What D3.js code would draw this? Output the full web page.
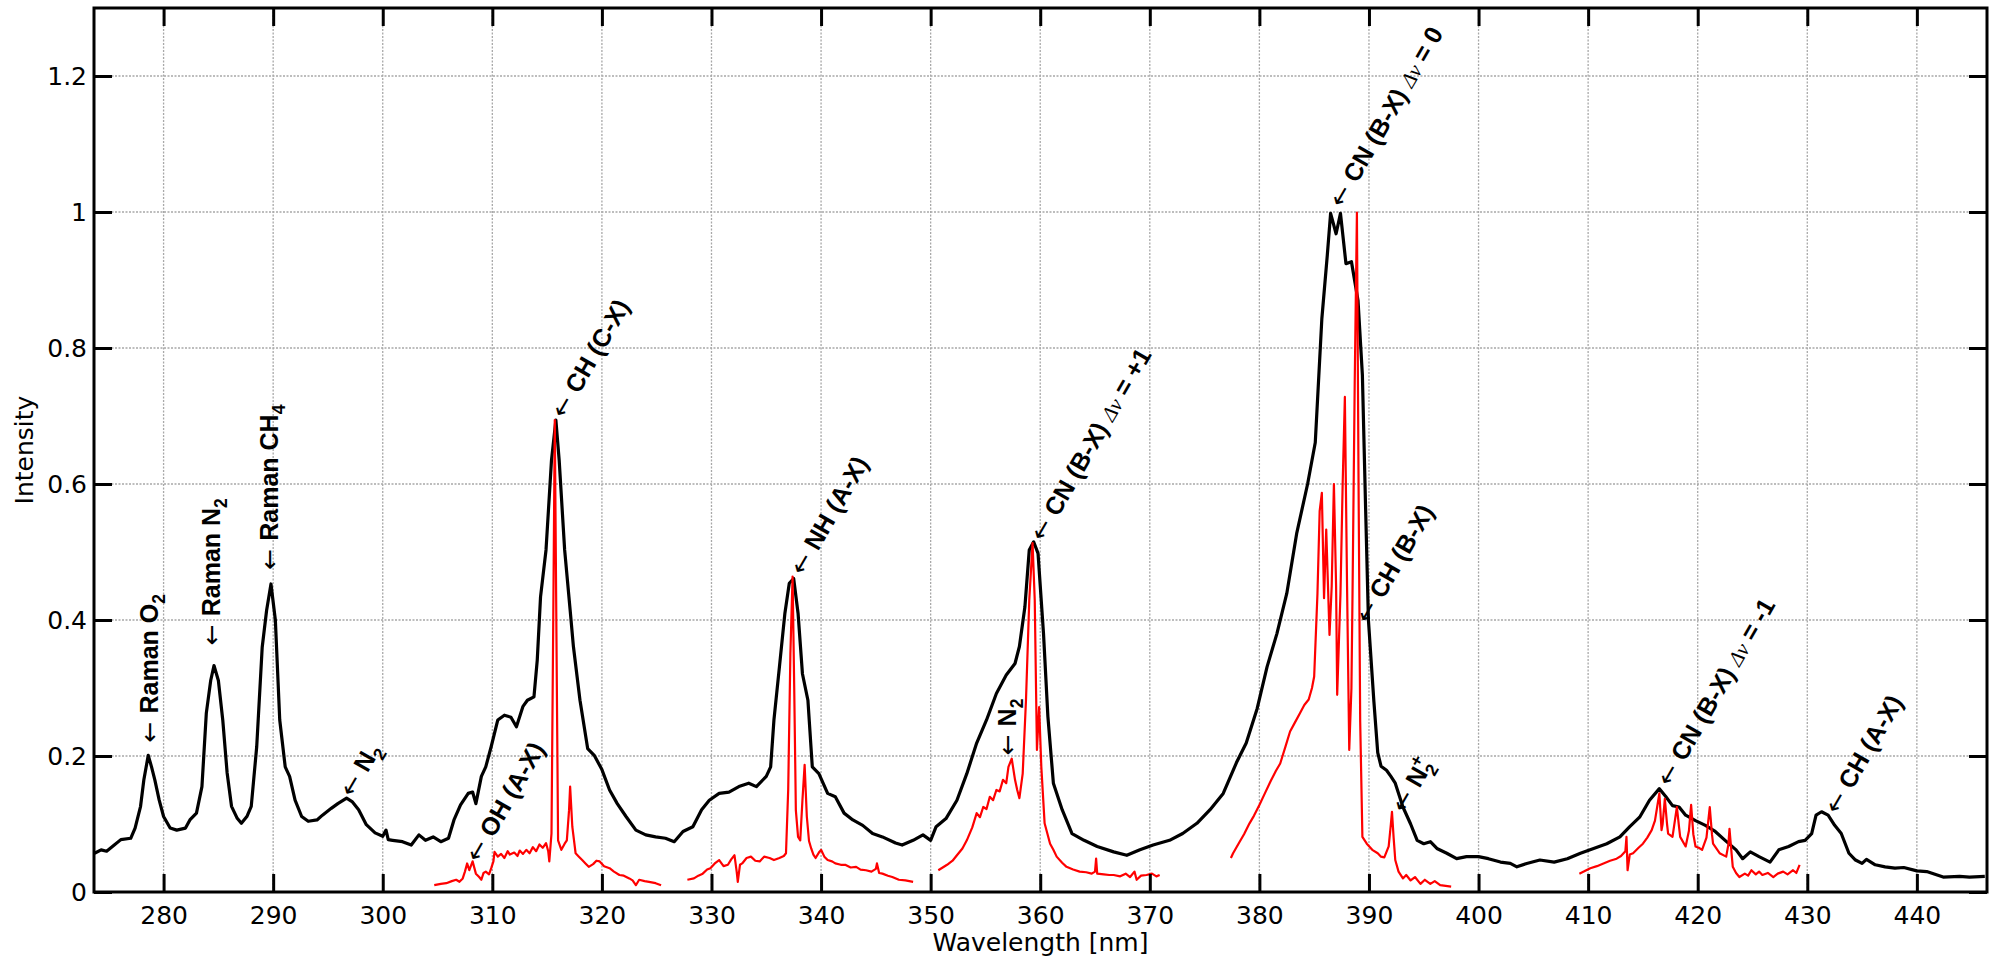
<!DOCTYPE html>
<html><head><meta charset="utf-8">
<script src="https://cdn.jsdelivr.net/npm/d3@7"></script>
<style>body{margin:0;background:#fff}svg{display:block}</style>
</head><body>
<svg id="chart" width="1997" height="963"></svg>
<script>
// ---------- DATA ----------
const blackWl = [273.7,274.3,274.8,275.5,276.1,277.0,277.4,277.9,278.2,278.6,278.9,279.2,279.6,280.0,280.6,281.2,282.0,282.4,283.0,283.5,283.9,284.3,284.6,285.0,285.4,285.8,286.2,286.7,287.1,287.6,288.0,288.5,289.0,289.4,289.8,290.2,290.6,291.1,291.5,292.0,292.6,293.2,294.0,294.5,295.3,295.9,296.7,297.2,297.8,298.5,299.3,300.0,300.3,300.5,300.9,301.8,302.6,303.3,303.9,304.6,305.3,306.0,306.5,307.1,307.8,308.2,308.5,309.0,309.4,309.9,310.5,311.1,311.7,312.2,312.8,313.2,313.8,314.1,314.4,314.9,315.4,315.8,316.1,316.6,317.1,317.4,318.0,318.7,319.3,320.0,320.7,321.4,322.2,323.1,324.0,324.9,325.8,326.6,327.4,328.3,329.1,329.8,330.7,331.6,332.5,333.4,334.1,335.0,335.4,335.7,336.2,336.7,337.1,337.5,337.9,338.3,338.8,339.2,339.8,340.6,341.3,342.1,342.9,343.8,344.7,345.6,346.8,347.4,348.4,349.3,350.0,350.5,351.4,352.4,353.3,354.2,355.1,356.0,356.9,357.7,358.1,358.6,359.0,359.4,359.8,360.3,360.7,361.2,362.0,362.9,364.0,365.2,366.7,367.9,369.1,370.3,371.8,373.0,374.3,375.5,376.7,377.9,378.8,379.8,380.7,381.6,382.5,383.4,384.4,385.1,385.7,386.2,386.5,387.0,387.4,387.9,388.4,389.0,389.4,389.7,389.95,390.45,390.8,391.1,391.6,392.0,392.4,393.1,393.8,394.4,395.0,395.6,396.2,397.1,398.0,398.9,400.0,400.9,402.0,402.9,403.5,404.4,405.6,406.9,408.1,409.3,410.5,411.7,412.9,413.8,414.7,415.6,416.5,417.1,417.7,418.3,418.9,419.8,420.7,421.6,422.5,423.5,424.1,424.8,425.6,426.6,427.4,428.3,429.2,429.8,430.4,430.8,431.3,431.9,432.5,433.1,433.8,434.4,435.0,435.4,436.2,437.1,438.0,438.8,440.0,440.9,442.4,443.9,444.8,446.2];
const blackInt = [0.057,0.062,0.060,0.069,0.077,0.079,0.094,0.126,0.165,0.201,0.184,0.165,0.135,0.111,0.094,0.091,0.094,0.106,0.116,0.155,0.263,0.311,0.333,0.311,0.253,0.175,0.126,0.109,0.101,0.111,0.126,0.214,0.360,0.414,0.453,0.400,0.253,0.184,0.170,0.135,0.111,0.104,0.106,0.113,0.123,0.130,0.138,0.133,0.121,0.099,0.087,0.082,0.091,0.077,0.076,0.074,0.069,0.084,0.076,0.081,0.074,0.079,0.106,0.128,0.145,0.147,0.130,0.170,0.184,0.214,0.253,0.260,0.257,0.243,0.273,0.282,0.287,0.341,0.434,0.503,0.635,0.694,0.635,0.503,0.415,0.361,0.282,0.211,0.201,0.180,0.150,0.130,0.111,0.091,0.084,0.081,0.079,0.074,0.089,0.096,0.121,0.135,0.145,0.147,0.155,0.160,0.155,0.170,0.184,0.253,0.331,0.410,0.454,0.461,0.410,0.321,0.282,0.184,0.174,0.145,0.140,0.116,0.106,0.098,0.086,0.081,0.072,0.069,0.076,0.084,0.076,0.096,0.108,0.135,0.174,0.219,0.253,0.292,0.319,0.336,0.361,0.419,0.503,0.515,0.498,0.380,0.258,0.160,0.121,0.086,0.076,0.067,0.059,0.054,0.062,0.069,0.076,0.086,0.101,0.121,0.145,0.190,0.219,0.270,0.331,0.380,0.439,0.527,0.600,0.661,0.843,0.937,0.998,0.968,0.998,0.924,0.927,0.870,0.760,0.560,0.400,0.280,0.205,0.185,0.179,0.170,0.160,0.125,0.100,0.076,0.071,0.074,0.064,0.057,0.049,0.052,0.052,0.049,0.044,0.042,0.037,0.042,0.047,0.044,0.049,0.057,0.064,0.071,0.081,0.096,0.110,0.135,0.152,0.140,0.127,0.125,0.113,0.105,0.098,0.089,0.076,0.062,0.049,0.059,0.052,0.044,0.062,0.067,0.074,0.076,0.086,0.113,0.118,0.113,0.098,0.086,0.057,0.047,0.042,0.048,0.040,0.037,0.035,0.036,0.031,0.030,0.022,0.023,0.022,0.023];

const red1Wl = [304.7,305.3,305.8,306.3,306.7,307.0,307.3,307.5,307.7,307.9,308.2,308.5,308.8,309.0,309.2,309.4,309.7,309.9,310.1,310.2,310.5,310.8,311.1,311.4,311.6,312.0,312.3,312.5,312.8,313.1,313.4,313.7,314.0,314.3,314.6,314.9,315.1,315.2,315.4,315.55,315.7,315.85,316.0,316.3,316.6,316.8,317.0,317.1,317.3,317.6,317.9,318.2,318.5,318.8,319.2,319.5,319.8,320.2,320.7,321.1,321.6,322.0,322.5,322.8,323.1,323.4,323.9,324.3,324.9,325.4];
const red1Int = [0.010,0.012,0.013,0.016,0.018,0.015,0.020,0.030,0.042,0.032,0.045,0.027,0.022,0.018,0.028,0.030,0.026,0.035,0.045,0.059,0.052,0.056,0.050,0.060,0.055,0.058,0.053,0.061,0.056,0.062,0.057,0.066,0.060,0.070,0.065,0.072,0.060,0.045,0.086,0.380,0.694,0.380,0.076,0.062,0.071,0.076,0.120,0.155,0.096,0.057,0.052,0.047,0.042,0.037,0.041,0.046,0.045,0.038,0.035,0.030,0.025,0.024,0.020,0.017,0.010,0.018,0.016,0.015,0.013,0.010];

const red2Wl = [327.8,328.4,328.8,329.2,329.6,329.9,330.3,330.7,331.1,331.5,331.8,332.1,332.3,332.4,332.6,332.8,333.2,333.6,334.0,334.4,334.8,335.3,335.7,336.2,336.6,336.8,337.0,337.2,337.4,337.55,337.7,337.9,338.1,338.3,338.5,338.7,338.9,339.1,339.3,339.5,339.8,340.0,340.3,340.6,341.0,341.3,341.8,342.2,342.7,343.2,343.6,344.1,344.6,345.0,345.1,345.3,345.6,346.1,346.5,347.1,347.7,348.4];
const red2Int = [0.018,0.020,0.024,0.027,0.033,0.035,0.042,0.047,0.038,0.040,0.048,0.054,0.030,0.015,0.040,0.042,0.050,0.052,0.046,0.045,0.052,0.050,0.047,0.050,0.053,0.057,0.150,0.350,0.464,0.300,0.120,0.081,0.076,0.135,0.187,0.111,0.075,0.064,0.055,0.050,0.058,0.062,0.052,0.047,0.045,0.042,0.040,0.040,0.036,0.037,0.033,0.032,0.030,0.034,0.042,0.028,0.027,0.024,0.022,0.018,0.017,0.015];

const red3Wl = [350.7,351.1,351.5,352.0,352.4,352.9,353.3,353.8,354.2,354.5,354.8,355.1,355.4,355.7,356.0,356.3,356.6,356.9,357.1,357.4,357.7,357.9,358.1,358.4,358.7,359.0,359.3,359.5,359.7,359.9,360.1,360.4,360.9,361.2,361.5,362.0,362.4,363.0,363.6,364.2,364.7,365.0,365.1,365.2,365.8,366.3,366.7,367.3,367.8,368.2,368.6,368.8,369.2,369.7,370.2,370.6,370.9];
const red3Int = [0.032,0.036,0.040,0.046,0.054,0.064,0.076,0.095,0.116,0.110,0.125,0.122,0.140,0.135,0.150,0.148,0.165,0.160,0.184,0.196,0.165,0.150,0.138,0.174,0.282,0.429,0.513,0.429,0.209,0.272,0.184,0.101,0.071,0.062,0.052,0.043,0.037,0.033,0.030,0.029,0.027,0.030,0.049,0.027,0.026,0.025,0.025,0.023,0.027,0.022,0.030,0.018,0.024,0.025,0.027,0.023,0.025];

const red4Wl = [377.4,377.6,378.2,378.6,379.1,379.5,380.0,380.5,381.0,381.5,381.9,382.4,382.8,383.2,383.7,384.1,384.5,384.8,385.0,385.3,385.5,385.7,385.9,386.1,386.4,386.6,386.8,387.0,387.1,387.4,387.6,387.8,388.0,388.2,388.4,388.5,388.7,388.9,389.05,389.2,389.4,389.8,390.3,390.8,391.1,391.4,391.8,392.0,392.1,392.25,392.4,392.7,393.1,393.4,393.8,394.2,394.7,395.1,395.6,396.0,396.5,397.0,397.5];
const red4Int = [0.050,0.057,0.074,0.085,0.101,0.112,0.128,0.145,0.162,0.178,0.189,0.215,0.236,0.248,0.263,0.275,0.283,0.300,0.317,0.439,0.560,0.587,0.432,0.533,0.378,0.450,0.600,0.450,0.290,0.439,0.600,0.728,0.450,0.209,0.300,0.439,0.750,0.999,0.600,0.250,0.081,0.071,0.062,0.057,0.052,0.051,0.067,0.100,0.118,0.080,0.047,0.030,0.020,0.025,0.017,0.022,0.012,0.018,0.012,0.016,0.010,0.009,0.008];

const red5Wl = [409.2,409.6,410.2,410.8,411.4,412.0,412.6,413.0,413.4,413.5,413.6,413.8,414.1,414.6,415.0,415.4,415.8,416.1,416.3,416.5,416.7,416.8,417.0,417.2,417.3,417.7,418.1,418.3,418.4,418.9,419.2,419.4,419.6,419.8,420.1,420.4,420.8,421.1,421.3,421.4,422.0,422.6,422.8,422.9,423.1,423.2,423.5,423.8,424.3,424.6,424.9,425.3,425.6,425.9,426.4,426.9,427.3,427.8,428.2,428.7,429.0,429.3];
const red5Int = [0.027,0.030,0.035,0.038,0.042,0.046,0.049,0.053,0.060,0.081,0.032,0.055,0.057,0.065,0.071,0.080,0.091,0.105,0.125,0.145,0.091,0.100,0.137,0.100,0.086,0.081,0.125,0.095,0.081,0.067,0.090,0.128,0.085,0.067,0.065,0.062,0.080,0.125,0.085,0.071,0.057,0.052,0.070,0.093,0.055,0.037,0.028,0.022,0.027,0.024,0.032,0.026,0.030,0.025,0.028,0.022,0.027,0.030,0.026,0.032,0.028,0.040];

const xTicks = [280,290,300,310,320,330,340,350,360,370,380,390,400,410,420,430,440];
const xTickLabels = ["280","290","300","310","320","330","340","350","360","370","380","390","400","410","420","430","440"];
const yTicks = [0,0.2,0.4,0.6,0.8,1.0,1.2];
const yTickLabels = ["0","0.2","0.4","0.6","0.8","1","1.2"];

// label anchors: wavelength, intensity at the arrow tip
const labelWl    = [278.8, 284.5, 289.8, 296.7, 308.2, 316.0, 337.8, 357.1, 359.7, 387.0, 389.4, 392.7, 416.9, 432.2];
const labelInt   = [0.22, 0.363, 0.474, 0.143, 0.047, 0.70, 0.469, 0.201, 0.519, 1.01, 0.398, 0.12, 0.159, 0.118];
const labelAngle = [-90, -90, -90, -60, -60, -60, -60, -90, -60, -60, -60, -60, -60, -60];
const labelParts = [
  [["Raman O",""],["2","sub"]],
  [["Raman N",""],["2","sub"]],
  [["Raman CH",""],["4","sub"]],
  [["N",""],["2","sub"]],
  [["OH (A-X)",""]],
  [["CH (C-X)",""]],
  [["NH (A-X)",""]],
  [["N",""],["2","sub"]],
  [["CN (B-X) ",""],["\u0394\u03BD","it"],[" = +1",""]],
  [["CN (B-X) ",""],["\u0394\u03BD","it"],[" = 0",""]],
  [["CH (B-X)",""]],
  [["N",""],["2","sub"],["+","supstack"]],
  [["CN (B-X) ",""],["\u0394\u03BD","it"],[" = -1",""]],
  [["CH (A-X)",""]]
];

// ---------- CHART ----------
const W = 1997, H = 963;
const m = {left:94, right:10, top:8, bottom:71};
const svg = d3.select("#chart");
const x = d3.scaleLinear().domain([273.65, 446.4]).range([m.left, W - m.right]);
const y = d3.scaleLinear().domain([0, 1.3]).range([H - m.bottom, m.top]);
const FONT = "DejaVu Sans";
const LFONT = "Liberation Sans";

// grid
const grid = svg.append("g").attr("stroke", "#a8a8a8").attr("stroke-width", 1.3).attr("stroke-dasharray", "2,1.5");
grid.selectAll("line.vx").data(xTicks).join("line")
  .attr("x1", d => x(d)).attr("x2", d => x(d)).attr("y1", y(0)).attr("y2", y(1.3));
grid.selectAll("line.hy").data(yTicks.filter(d => d > 0)).join("line")
  .attr("y1", d => y(d)).attr("y2", d => y(d)).attr("x1", x.range()[0]).attr("x2", x.range()[1]);

// lines
const toPts = (a, b) => a.map((v, i) => [v, b[i]]);
const line = d3.line().x(d => x(d[0])).y(d => y(d[1]));
svg.append("path").datum(toPts(blackWl, blackInt)).attr("d", line)
  .attr("fill", "none").attr("stroke", "#000").attr("stroke-width", 3.2).attr("stroke-linejoin", "round");
const reds = [[red1Wl, red1Int],[red2Wl, red2Int],[red3Wl, red3Int],[red4Wl, red4Int],[red5Wl, red5Int]];
svg.append("g").selectAll("path").data(reds).join("path")
  .attr("d", d => line(toPts(d[0], d[1])))
  .attr("fill", "none").attr("stroke", "#ff0000").attr("stroke-width", 2.2).attr("stroke-linejoin", "round");

// axes
const TL = 18;
const axB = d3.axisBottom(x).tickValues(xTicks).tickFormat((d, i) => xTickLabels[i]).tickSizeInner(-TL).tickSizeOuter(0).tickPadding(14);
const axT = d3.axisTop(x).tickValues(xTicks).tickFormat("").tickSizeInner(-TL).tickSizeOuter(0);
const axL = d3.axisLeft(y).tickValues(yTicks).tickFormat((d, i) => yTickLabels[i]).tickSizeInner(-TL).tickSizeOuter(0).tickPadding(7);
const axR = d3.axisRight(y).tickValues(yTicks).tickFormat("").tickSizeInner(-TL).tickSizeOuter(0);
function styleAxis(g) {
  g.select(".domain").remove();
  g.selectAll(".tick line").attr("stroke", "#000").attr("stroke-width", 3);
  g.selectAll(".tick text").attr("fill", "#000").attr("font-family", FONT).attr("font-size", 25);
}
svg.append("g").attr("transform", `translate(0,${y(0)})`).call(axB).call(styleAxis);
svg.append("g").attr("transform", `translate(0,${y(1.3)})`).call(axT).call(styleAxis);
svg.append("g").attr("transform", `translate(${x.range()[0]},0)`).call(axL).call(styleAxis);
svg.append("g").attr("transform", `translate(${x.range()[1]},0)`).call(axR).call(styleAxis);

// frame
svg.append("rect").attr("x", x.range()[0]).attr("y", y(1.3))
  .attr("width", x.range()[1] - x.range()[0]).attr("height", y(0) - y(1.3))
  .attr("fill", "none").attr("stroke", "#000").attr("stroke-width", 3);

// axis titles
svg.append("text").attr("x", (x.range()[0] + x.range()[1]) / 2).attr("y", 951)
  .attr("text-anchor", "middle").attr("font-family", FONT).attr("font-size", 25).text("Wavelength [nm]");
svg.append("text").attr("transform", `translate(33,${(y(0) + y(1.3)) / 2}) rotate(-90)`)
  .attr("text-anchor", "middle").attr("font-family", FONT).attr("font-size", 25).text("Intensity");

// annotations
const FS = 25;
const gLab = svg.append("g").attr("font-family", LFONT).attr("font-size", FS).attr("font-weight", "bold").attr("fill", "#000");
labelWl.forEach((wl, i) => {
  const t = gLab.append("text")
    .attr("transform", `translate(${x(wl)},${y(labelInt[i])}) rotate(${labelAngle[i]})`);
  t.append("tspan").attr("dy", 0.3 * FS).attr("font-family", "DejaVu Sans").attr("font-weight", "normal").text("\u2190 ");
  let shift = 0;
  labelParts[i].forEach(([txt, kind]) => {
    const s = t.append("tspan").text(txt);
    if (kind === "sub") {
      s.attr("dy", 0.28 * FS - shift).attr("font-size", 0.7 * FS); shift = 0.28 * FS;
    } else if (kind === "supstack") {
      s.attr("dx", -0.7 * FS * 0.556).attr("dy", -0.72 * FS).attr("font-size", 0.7 * FS); shift += -0.72 * FS;
    } else if (kind === "it") {
      s.attr("dy", -shift).attr("font-family", "Liberation Serif").attr("font-style", "italic")
        .attr("font-weight", "normal").attr("font-size", 0.85 * FS); shift = 0;
    } else {
      if (shift !== 0) { s.attr("dy", -shift); shift = 0; }
    }
  });
});
</script>
</body></html>
